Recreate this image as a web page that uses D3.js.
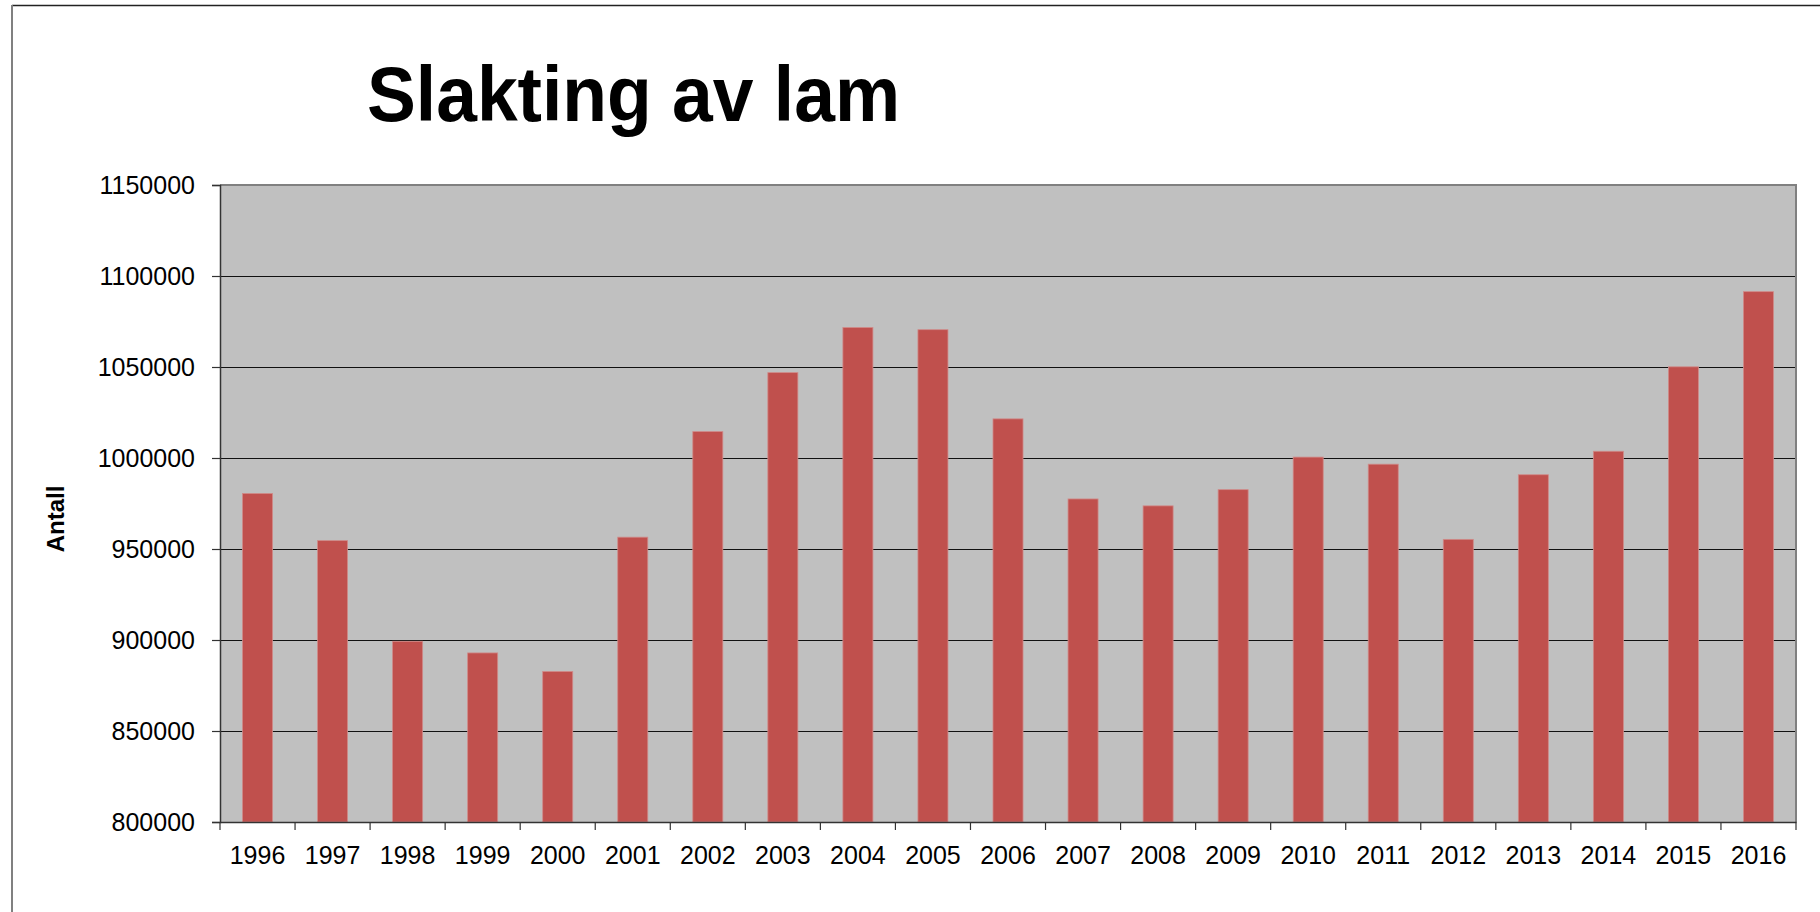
<!DOCTYPE html>
<html>
<head>
<meta charset="utf-8">
<script src="https://cdn.jsdelivr.net/npm/d3@7"></script>
<style>
  html, body { margin: 0; padding: 0; background: #fff; }
  svg { display: block; }
  text { font-family: "Liberation Sans", Arial, sans-serif; }
</style>
</head>
<body>
<svg id="chart" width="1820" height="912"></svg>
<script>
const years = ["1996","1997","1998","1999","2000","2001","2002","2003","2004","2005","2006","2007","2008","2009","2010","2011","2012","2013","2014","2015","2016"];
const values = [980500, 954600, 899300, 892900, 882700, 956500, 1014500, 1046900, 1071700, 1070500, 1021500, 977500, 973700, 982600, 1000500, 996600, 955300, 990800, 1003700, 1050100, 1091400];
const yTicks = [800000, 850000, 900000, 950000, 1000000, 1050000, 1100000, 1150000];
const title = "Slakting av lam";
const yTitle = "Antall";

const svg = d3.select("#chart");
const L = 220, R = 1796, T = 185, B = 822;

// outer frame
svg.append("line").attr("x1", 12).attr("x2", 1820).attr("y1", 5.5).attr("y2", 5.5)
  .attr("stroke", "#222").attr("stroke-width", 1.5);
svg.append("line").attr("x1", 12).attr("x2", 12).attr("y1", 5).attr("y2", 912)
  .attr("stroke", "#808080").attr("stroke-width", 2);

const x = d3.scaleBand().domain(years).range([L, R]).paddingInner(0.6).paddingOuter(0.3);
const y = d3.scaleLinear().domain([800000, 1150000]).range([B, T]);

// plot background
svg.append("rect").attr("x", L).attr("y", T).attr("width", R - L).attr("height", B - T)
  .attr("fill", "#c0c0c0");

// gridlines
svg.append("g").selectAll("line").data(yTicks.slice(1, -1)).join("line")
  .attr("x1", L).attr("x2", R).attr("y1", d => Math.round(y(d)) + 0.5).attr("y2", d => Math.round(y(d)) + 0.5)
  .attr("stroke", "#111").attr("stroke-width", 1);

// bars
svg.append("g").selectAll("rect").data(years).join("rect")
  .attr("x", (d) => x(d))
  .attr("y", (d, i) => y(values[i]))
  .attr("width", x.bandwidth())
  .attr("height", (d, i) => B - y(values[i]))
  .attr("fill", "#c0504d")
  .attr("stroke", "#d08a88").attr("stroke-width", 0.8);

// plot border top and right
svg.append("path").attr("d", `M${L},${T}H${R}V${B}`).attr("fill", "none")
  .attr("stroke", "#808080").attr("stroke-width", 2);

// y axis
const yAxis = d3.axisLeft(y).tickValues(yTicks).tickSize(8).tickPadding(17).tickFormat(d3.format("d"));
const gy = svg.append("g").attr("transform", `translate(${L},0)`).call(yAxis);
gy.select(".domain").attr("stroke", "#333").attr("stroke-width", 1.5);
gy.selectAll(".tick line").attr("stroke", "#333").attr("stroke-width", 1.2);
gy.selectAll(".tick text").attr("font-size", 25).attr("fill", "#000")
  .attr("font-family", "'Liberation Sans', Arial, sans-serif");

// x axis
const xAxis = d3.axisBottom(x).tickSize(0).tickPadding(0);
const gx = svg.append("g").attr("transform", `translate(0,${B})`).call(xAxis);
gx.select(".domain").attr("stroke", "#333").attr("stroke-width", 1.5);
gx.selectAll(".tick text").attr("font-size", 25).attr("fill", "#000")
  .attr("font-family", "'Liberation Sans', Arial, sans-serif")
  .attr("dy", null).attr("y", 42);
// boundary ticks
const bounds = d3.range(years.length + 1).map(i => L + i * x.step());
svg.append("g").selectAll("line").data(bounds).join("line")
  .attr("x1", d => d).attr("x2", d => d).attr("y1", B).attr("y2", B + 8)
  .attr("stroke", "#333").attr("stroke-width", 1.2);

// title
svg.append("text").attr("x", 367).attr("y", 121).attr("font-size", 77).attr("font-weight", "bold")
  .attr("textLength", 533).attr("lengthAdjust", "spacingAndGlyphs")
  .attr("fill", "#000").text(title);

// y title
svg.append("text").attr("transform", "translate(64,519) rotate(-90)")
  .attr("text-anchor", "middle").attr("font-size", 24).attr("font-weight", "bold")
  .attr("fill", "#000").text(yTitle);
</script>
</body>
</html>
